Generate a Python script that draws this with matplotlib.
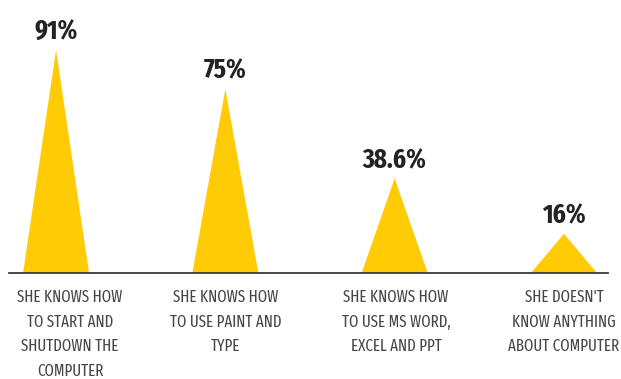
import matplotlib
matplotlib.use("Agg")
import matplotlib.pyplot as plt
from matplotlib.patches import Polygon

categories = [
    "SHE KNOWS HOW\nTO START AND\nSHUTDOWN THE\nCOMPUTER",
    "SHE KNOWS HOW\nTO USE PAINT AND\nTYPE",
    "SHE KNOWS HOW\nTO USE MS WORD,\nEXCEL AND PPT",
    "SHE DOESN'T\nKNOW ANYTHING\nABOUT COMPUTER",
]
values = [91, 75, 38.6, 16]
value_labels = ["91%", "75%", "38.6%", "16%"]

YELLOW = "#FFCB05"
DARK = "#232323"
GREY = "#474747"
HALF_WIDTH = 0.195
FONT = ["Fira Sans Extra Condensed", "DejaVu Sans"]

fig = plt.figure(figsize=(6.21, 3.79), dpi=100)
ax = fig.add_axes([9 / 621, 106 / 379, 599 / 621, 273 / 379])
ax.set_xlim(-0.278, 3.26)
ax.set_ylim(0, 111.4)

for i, (v, lab) in enumerate(zip(values, value_labels)):
    tri = Polygon([(i - HALF_WIDTH, 0), (i, v), (i + HALF_WIDTH, 0)],
                  closed=True, facecolor=YELLOW, edgecolor="none")
    ax.add_patch(tri)
    ax.annotate(lab, xy=(i, v), xytext=(0, 3.5), textcoords="offset points",
                ha="center", va="bottom", fontsize=19.5, fontweight="bold",
                color=DARK, family=FONT)

# first label sits a little right of its peak
label_shift = [10, 0, 1, 0]
for i, cat in enumerate(categories):
    ax.annotate(cat, xy=(i, 0), xytext=(label_shift[i], -12), textcoords="offset points",
                ha="center", va="top", fontsize=11.7, fontweight="normal",
                color=GREY, linespacing=1.66, annotation_clip=False,
                family=FONT)

for side in ("top", "left", "right"):
    ax.spines[side].set_visible(False)
ax.spines["bottom"].set_color("#3a3a3a")
ax.spines["bottom"].set_linewidth(1.3)
ax.set_xticks([])
ax.set_yticks([])
ax.patch.set_alpha(0)

fig.savefig("out.png", dpi=100)
